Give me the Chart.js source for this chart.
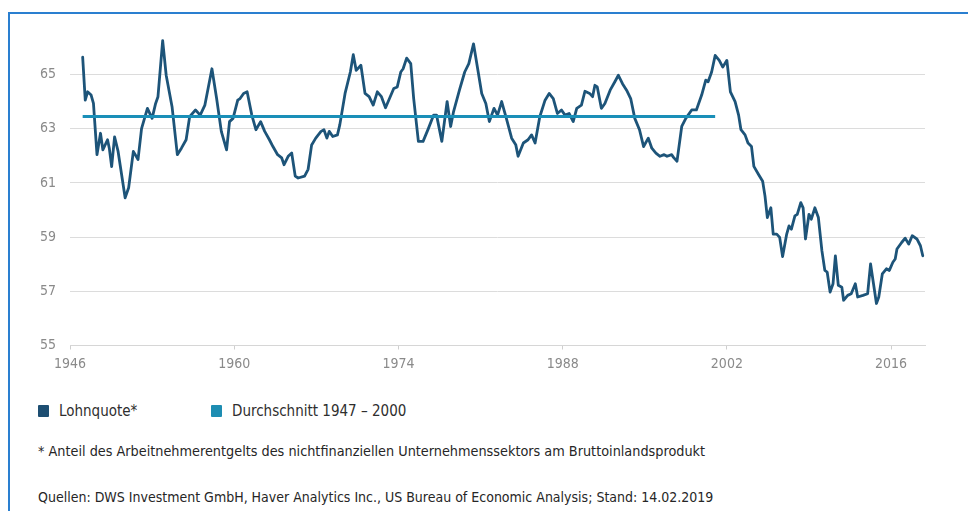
<!DOCTYPE html>
<html>
<head>
<meta charset="utf-8">
<script src="https://cdn.jsdelivr.net/npm/chart.js@4"></script>
<style>
  html, body { margin:0; padding:0; background:#fff; }
  body { width:968px; height:511px; position:relative; overflow:hidden;
         font-family:"Liberation Sans Narrow","DejaVu Sans Condensed","Liberation Sans",Arial,sans-serif; }
  #frameTop { position:absolute; left:8px; top:12px; width:960px; height:2px; background:#2a7fd0; }
  #frameLeft { position:absolute; left:8px; top:12px; width:2px; height:499px; background:#2a7fd0; }
  #wrap { position:absolute; left:0; top:0; width:968px; height:380px; }
  .leg { position:absolute; top:404px; height:14px; font-size:15px; color:#2e2e2e; line-height:14px; white-space:nowrap; }
  .sq { display:inline-block; width:11px; height:12px; vertical-align:-1px; margin-right:10px; border-radius:1px; }
  .note { position:absolute; left:38px; font-size:14px; color:#262626; white-space:nowrap; }
</style>
</head>
<body>
<div id="frameTop"></div>
<div id="frameLeft"></div>
<div id="wrap"><canvas id="c"></canvas></div>
<div class="leg" style="left:38px"><span class="sq" style="background:#1d4e72"></span>Lohnquote*</div>
<div class="leg" style="left:211px"><span class="sq" style="background:#1d8db2"></span>Durchschnitt 1947 – 2000</div>
<div class="note" style="top:443px;font-size:14.3px">* Anteil des Arbeitnehmerentgelts des nichtfinanziellen Unternehmenssektors am Bruttoinlandsprodukt</div>
<div class="note" style="top:489px">Quellen: DWS Investment GmbH, Haver Analytics Inc., US Bureau of Economic Analysis; Stand: 14.02.2019</div>
<script>
const years = [
1947.08,1947.3,1947.5,1947.8,1948.0,1948.3,1948.6,1948.8,1949.2,1949.35,1949.55,1949.8,1950.1,1950.7,1951.0,1951.4,1951.8,1952.1,1952.6,1953.0,
1953.3,1953.5,1953.9,1954.2,1954.7,1955.15,1955.5,1955.9,1956.2,1956.7,1957.1,1957.5,1958.1,1958.5,1958.9,1959.35,1959.6,1959.9,1960.3,1960.5,
1960.8,1961.1,1961.5,1961.85,1962.25,1962.6,1963.0,1963.3,1963.7,1964.05,1964.25,1964.6,1964.9,1965.2,1965.45,1966.0,1966.3,1966.6,1966.95,1967.4,
1967.65,1967.9,1968.1,1968.4,1968.8,1969.0,1969.45,1969.9,1970.15,1970.4,1970.8,1971.15,1971.5,1971.85,1972.2,1972.55,1972.9,1973.3,1973.6,1973.9,
1974.2,1974.4,1974.7,1975.05,1975.3,1975.7,1976.1,1976.55,1977.0,1977.25,1977.7,1978.15,1978.45,1978.7,1979.2,1979.65,1980.0,1980.4,1980.8,1981.1,
1981.45,1981.75,1982.15,1982.45,1982.8,1983.2,1983.65,1984.0,1984.2,1984.65,1985.05,1985.35,1985.65,1986.05,1986.5,1986.85,1987.2,1987.55,1987.9,1988.2,
1988.55,1988.9,1989.2,1989.6,1989.9,1990.3,1990.55,1990.75,1990.95,1991.3,1991.6,1992.05,1992.45,1992.75,1993.1,1993.45,1993.8,1994.15,1994.55,1994.9,
1995.3,1995.6,1995.95,1996.3,1996.65,1996.9,1997.3,1997.45,1997.75,1998.15,1998.5,1999.0,1999.4,1999.85,2000.2,2000.4,2000.7,2001.0,2001.35,2001.65,
2002.0,2002.3,2002.7,2003.0,2003.2,2003.55,2003.8,2004.1,2004.3,2004.7,2005.05,2005.25,2005.45,2005.75,2005.95,2006.25,2006.5,2006.75,2007.1,2007.3,
2007.5,2007.8,2008.0,2008.3,2008.5,2008.7,2009.0,2009.2,2009.5,2009.8,2010.1,2010.35,2010.55,2010.8,2011.05,2011.25,2011.5,2011.8,2011.95,2012.3,
2012.6,2012.95,2013.15,2013.6,2014.0,2014.25,2014.5,2014.75,2014.95,2015.25,2015.6,2015.85,2016.15,2016.35,2016.5,2016.9,2017.2,2017.5,2017.8,2018.2,
2018.5,2018.7
];
const lohnquote = [
65.64,64.05,64.36,64.24,63.93,62.04,62.83,62.22,62.59,62.28,61.6,62.7,62.16,60.45,60.82,62.16,61.86,63.0,63.75,63.38,
63.93,64.18,66.25,64.97,63.81,62.04,62.28,62.59,63.44,63.69,63.5,63.87,65.21,64.11,62.9,62.22,63.26,63.38,64.05,64.11,
64.3,64.36,63.5,62.96,63.26,62.9,62.59,62.34,62.04,61.92,61.67,61.98,62.1,61.25,61.18,61.25,61.5,62.4,62.65,62.9,
62.96,62.65,62.9,62.71,62.77,63.14,64.3,65.09,65.73,65.15,65.34,64.3,64.18,63.87,64.36,64.18,63.77,64.18,64.48,64.54,
65.09,65.21,65.6,65.4,64.11,62.53,62.53,63.0,63.5,63.5,62.53,64.0,63.08,63.63,64.42,65.09,65.4,66.13,65.09,64.3,
63.93,63.26,63.75,63.5,64.0,63.38,62.65,62.41,61.98,62.47,62.59,62.77,62.47,63.44,64.05,64.3,64.11,63.56,63.69,63.5,
63.56,63.26,63.75,63.87,64.38,64.3,64.18,64.6,64.54,63.75,63.93,64.42,64.73,64.97,64.66,64.42,64.11,63.38,62.96,62.34,
62.65,62.28,62.1,61.98,62.04,61.98,62.04,61.94,61.8,63.08,63.38,63.69,63.69,64.24,64.79,64.73,65.09,65.7,65.52,65.27,
65.52,64.36,64.0,63.5,62.96,62.77,62.47,62.34,61.61,61.31,61.06,60.51,59.72,60.08,59.11,59.11,58.99,58.28,59.11,59.41,
59.29,59.78,59.84,60.27,60.08,58.93,59.84,59.66,60.08,59.72,58.5,57.77,57.71,56.97,57.28,58.31,57.22,57.15,56.67,56.85,
56.91,57.28,56.79,56.85,56.91,58.01,57.28,56.55,56.79,57.64,57.83,57.77,58.07,58.19,58.56,58.8,58.96,58.74,59.05,58.93,
58.68,58.31
];
const avgYears = [1947.08, 2001.0];
const avgValues = [63.45, 63.45];
const xTicks = [1946, 1960, 1974, 1988, 2002, 2016];
const yTicks = [55, 57, 59, 61, 63, 65];

const mainData = years.map((x, i) => ({ x: x, y: lohnquote[i] }));
const avgData = avgYears.map((x, i) => ({ x: x, y: avgValues[i] }));

new Chart(document.getElementById('c'), {
  type: 'line',
  data: {
    datasets: [
      { label: 'Durchschnitt 1947 – 2000', data: avgData, borderColor: '#1a8fb8', borderWidth: 3, pointRadius: 0, tension: 0 },
      { label: 'Lohnquote*', data: mainData, borderColor: '#1d5479', borderWidth: 2.8, pointRadius: 0, tension: 0,
        borderJoinStyle: 'round', borderCapStyle: 'round' }
    ]
  },
  options: {
    responsive: true,
    maintainAspectRatio: false,
    animation: false,
    layout: { padding: { left: 0, right: 43, top: 20, bottom: 0 } },
    plugins: { legend: { display: false }, tooltip: { enabled: false } },
    scales: {
      x: {
        type: 'linear', min: 1946, max: 2018.89,
        afterFit: s => { s.height = 34.5; },
        afterBuildTicks: s => { s.ticks = xTicks.map(v => ({ value: v })); },
        grid: { drawOnChartArea: false, drawTicks: true, tickLength: 4, color: '#cfcfcf' },
        border: { display: true, color: '#d6d6d6' },
        ticks: { padding: 6, color: '#8a8a8a', font: { family: '"Liberation Sans Narrow","DejaVu Sans Condensed","Liberation Sans",sans-serif', size: 14 },
                 callback: v => String(v), maxRotation: 0, autoSkip: false }
      },
      y: {
        min: 55, max: 66.92,
        afterFit: s => { s.width = 70; },
        afterBuildTicks: s => { s.ticks = yTicks.map(v => ({ value: v })); },
        grid: { color: '#dcdcdc', drawTicks: false },
        border: { display: false },
        ticks: { padding: 14, color: '#8a8a8a', font: { family: '"Liberation Sans Narrow","DejaVu Sans Condensed","Liberation Sans",sans-serif', size: 14 },
                 callback: v => String(v) }
      }
    }
  }
});
</script>
</body>
</html>
